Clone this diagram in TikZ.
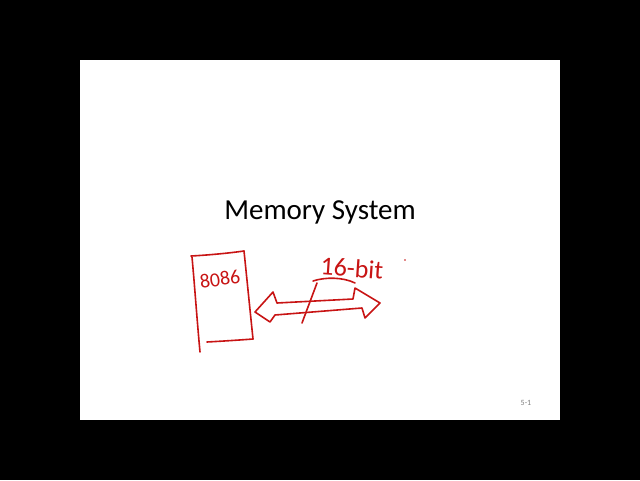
\documentclass[tikz,border=0pt]{standalone}
\usepackage{fontspec}
\setmainfont{Carlito}
\definecolor{ink}{RGB}{200,20,20}
\begin{document}
\begin{tikzpicture}[x=0.5pt,y=-0.5pt,
  pen/.style={draw=ink,line width=0.8pt,line cap=round,line join=round},
  hand/.style={text=ink,inner sep=0pt,font=\fontsize{10}{10}\selectfont}]
\useasboundingbox (0,0) rectangle (640,480);
\fill[black] (0,0) rectangle (640,480);
\fill[white] (80,60) rectangle (560,420);
\node (title) at (320,212) {\fontsize{14.5}{16}\selectfont Memory System};
\node[text=gray,inner sep=0pt,font=\fontsize{4}{4}\selectfont] (pg) at (526,403) {5-1};
% 8086 box
\draw[pen] (191,256) .. controls (210,255) and (230,253) .. (244,251);
\draw[pen] (244,251) .. controls (247,280) and (250,310) .. (253,339);
\draw[pen] (207,342) .. controls (225,341) and (240,340) .. (253,339);
\draw[pen] (192,257) .. controls (195,290) and (197,320) .. (200,352);
\node[hand,rotate=8] (chip) at (220,279) {8086};
% bus label
\node[hand,rotate=-4,font=\fontsize{13}{13}\selectfont] (bus) at (352,268) {16-bit};
\fill[ink] (405,260) circle (0.8);
\draw[pen] (313,281) .. controls (325,277) and (343,277) .. (355,283);
\draw[pen] (317,283) -- (302,323);
% double arrow
\draw[pen] (277,303) -- (353,299) -- (355,288) -- (380,303) -- (365,318) -- (362,308)
  -- (275,315) -- (270,322) -- (255,312) -- (273,292) -- (277,303);
\end{tikzpicture}
\end{document}
